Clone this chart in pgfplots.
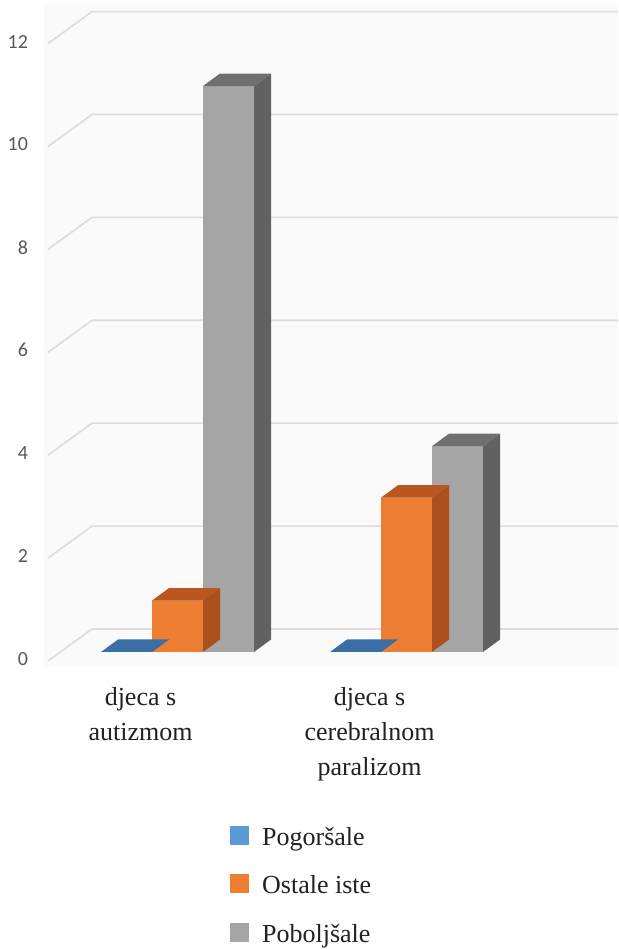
\documentclass[border=0pt]{standalone}
\usepackage{pgfplots}
\pgfplotsset{compat=1.18}
\usepackage{pgfplotstable}
\usepackage{fontspec}
\setmainfont{Liberation Serif}
\newfontfamily\tickfont{Carlito}

\definecolor{bluefront}{HTML}{5B9BD5}
\definecolor{bluetop}{HTML}{3A6EA5}
\definecolor{blueside}{HTML}{2F5E8E}
\definecolor{orangefront}{HTML}{ED7D31}
\definecolor{orangetop}{HTML}{BA561F}
\definecolor{orangeside}{HTML}{A9501C}
\definecolor{grayfront}{HTML}{A5A5A5}
\definecolor{graytop}{HTML}{6F6F6F}
\definecolor{grayside}{HTML}{616161}
\definecolor{gridcol}{HTML}{E2DADA}
\definecolor{wallcol}{HTML}{FAFAFA}
\definecolor{tickcol}{HTML}{595959}
\definecolor{textcol}{HTML}{222222}

% one unit of the value axis, in pt
\newcommand\yunit{51.45}

% top and right faces of a bar: name, bar shift (pt), top colour, side colour
% bar width 51pt, depth 17pt to the right and 12.5pt up
\newcommand\barfaces[4]{%
  \pgfdeclareplotmark{#1}{%
    \pgfmathsetmacro\barh{\barvalue*\yunit}%
    \pgfpathmoveto{\pgfpoint{#2+25.5}{0}}%
    \pgfpathlineto{\pgfpoint{#2+42.5}{12.5}}%
    \pgfpathlineto{\pgfpoint{#2+42.5}{12.5-\barh}}%
    \pgfpathlineto{\pgfpoint{#2+25.5}{-\barh}}%
    \pgfpathclose
    \pgfsetfillcolor{#4}\pgfusepath{fill}%
    \pgfpathmoveto{\pgfpoint{#2-25.5}{0}}%
    \pgfpathlineto{\pgfpoint{#2+25.5}{0}}%
    \pgfpathlineto{\pgfpoint{#2+42.5}{12.5}}%
    \pgfpathlineto{\pgfpoint{#2-8.5}{12.5}}%
    \pgfpathclose
    \pgfsetfillcolor{#3}\pgfusepath{fill}}}
\barfaces{faces-pog}{-51}{bluetop}{blueside}
\barfaces{faces-ost}{0}{orangetop}{orangeside}
\barfaces{faces-pob}{51}{graytop}{grayside}

\pgfplotstableread{
x pog ost pob
0 0   1   11
1 0   3   4
}\results

\begin{document}
\begin{tikzpicture}
\useasboundingbox (0pt,0pt) rectangle (618pt,949pt);
\fill[white] (0pt,0pt) rectangle (618pt,949pt);
\fill[wallcol] (44pt,282pt) rectangle (618pt,946pt);
\begin{axis}[
  anchor=origin, at={(177.5pt,297pt)},
  x=229pt, y=\yunit pt,
  xmin=-0.6, xmax=1.92, ymin=0, ymax=12.7,
  clip=false,
  axis line style={draw=none}, tick style={draw=none},
  xtick={0,1},
  xticklabels={{djeca s\\autizmom},{djeca s\\cerebralnom\\paralizom}},
  xticklabel style={align=center, font=\fontsize{26}{35}\selectfont,
    text=textcol, inner sep=0pt, anchor=north, xshift=-37pt, yshift=-35pt},
  ytick={0,2,...,12},
  yticklabel style={font=\tickfont\fontsize{20}{20}\selectfont, text=tickcol,
    anchor=east, inner sep=0pt, xshift=-12pt, yshift=-7pt},
  /pgf/number format/assume math mode=true,
  legend style={at={(0.329,-0.2655)}, anchor=north west, draw=none, fill=none,
    inner sep=0pt, font=\fontsize{26}{26}\selectfont, text=textcol,
    row sep=22pt, column sep=13pt,
    nodes={inner sep=0pt, text height=18pt, text depth=7pt}},
  legend cell align=left,
  legend image code/.code={\fill[#1,/tikz/.cd,draw=none] (0pt,-5pt) rectangle (19pt,14pt);},
  visualization depends on={rawy \as \barvalue},
]
% back wall and floor grid
\pgfplotsinvokeforeach{0,2,...,12}{
  \draw[gridcol, line width=1.6pt]
    ([xshift=-129.5pt,yshift=-9pt]axis cs:0,#1)
    -- ([xshift=-85.5pt,yshift=23pt]axis cs:0,#1)
    -- ([xshift=440.5pt,yshift=23pt]axis cs:0,#1);
}
% Pogoršale
\addplot[ybar, bar width=51pt, bar shift=-51pt, fill=bluefront, draw=none]
  table[x=x, y=pog]{\results};
\addplot[only marks, mark=faces-pog, forget plot] table[x=x, y=pog]{\results};
% Ostale iste
\addplot[ybar, bar width=51pt, bar shift=0pt, fill=orangefront, draw=none]
  table[x=x, y=ost]{\results};
\addplot[only marks, mark=faces-ost, forget plot] table[x=x, y=ost]{\results};
% Poboljšale
\addplot[ybar, bar width=51pt, bar shift=51pt, fill=grayfront, draw=none]
  table[x=x, y=pob]{\results};
\addplot[only marks, mark=faces-pob, forget plot] table[x=x, y=pob]{\results};
\legend{Pogoršale, Ostale iste, Poboljšale}
\end{axis}
\end{tikzpicture}
\end{document}
